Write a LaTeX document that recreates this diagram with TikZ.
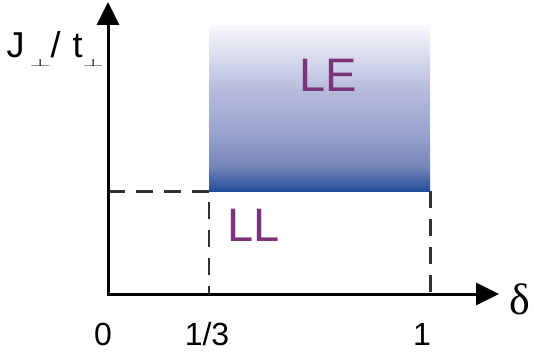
\documentclass[tikz,border=0pt]{standalone}
\usepackage{fontspec}
\usepackage{graphicx}
\setmainfont{Liberation Sans}
\newfontfamily\serifdelta{Liberation Serif}
\usetikzlibrary{arrows.meta}
\definecolor{txtpurple}{RGB}{122,52,122}
\definecolor{dashgray}{RGB}{50,50,50}
\definecolor{sb0}{RGB}{30,75,150}
\definecolor{sb1}{RGB}{38,80,154}
\definecolor{sb2}{RGB}{75,102,168}
\definecolor{sb3}{RGB}{120,135,185}
\definecolor{sb4}{RGB}{155,165,208}
\definecolor{sb5}{RGB}{182,187,220}
\definecolor{sb6}{RGB}{215,218,236}
\definecolor{sb7}{RGB}{248,248,252}
\pgfdeclareverticalshading{leshade}{100bp}{color(0bp)=(sb0); color(25bp)=(sb0); color(25.4bp)=(sb1); color(28.3bp)=(sb2); color(32.8bp)=(sb3); color(43.4bp)=(sb4); color(55.4bp)=(sb5); color(65bp)=(sb6); color(75bp)=(sb7); color(100bp)=(sb7)}
\tikzset{
  axisline/.style={line width=3pt, black, {Triangle[length=23pt,width=22pt]}-{Triangle[length=23pt,width=22pt]}},
  dashline/.style={line width=2.2pt, dashgray, dash pattern=on 17pt off 11pt},
  phase/.style={text=txtpurple, font=\fontsize{47}{47}\selectfont, inner sep=0pt},
  tick/.style={font=\fontsize{32}{32}\selectfont, inner sep=0pt, text=black},
}
\newcommand{\perpsub}{\raisebox{-9pt}{\scalebox{1.1}[0.42]{\fontsize{24}{24}\selectfont$\perp$}}}
\newcommand{\putat}[2]{\makebox[0pt][l]{\hspace{#1pt}#2}}
\begin{document}
\begin{tikzpicture}[x=1pt,y=-1pt]
\useasboundingbox (0,0) rectangle (534,358);
\coordinate (O) at (108,294);
\coordinate (ytip) at (108,2);
\coordinate (xtip) at (499,294);
\node[shading=leshade, rectangle, inner sep=0pt, minimum width=221pt, minimum height=166pt, anchor=north west] (LEbox) at (209,25) {};
\draw[dashline] (LEbox.south west -| O) -- (LEbox.south west) -- (LEbox.south west |- O);
\draw[dashline] (LEbox.south east) -- (LEbox.south east |- O);
\draw[axisline] (ytip) |- (xtip);
\node[phase] (LE) at (328,75) {LE};
\node[phase] (LL) at (254,225) {LL};
\node[tick] (t0) at (103,334) {0};
\node[tick] (t13) at (207,334) {1/3};
\node[tick] (t1) at (422,334) {1};
\node[inner sep=0pt, font=\serifdelta\fontsize{44}{44}\selectfont] (delta) at (520,299) {δ};
\node[inner sep=0pt, font=\fontsize{36}{36}\selectfont, anchor=base west] (ylab) at (0,58) {\putat{6}{J}\putat{29}{\perpsub}\putat{50}{/}\putat{72}{t}\putat{82}{\perpsub}\hspace{97pt}};
\end{tikzpicture}
\end{document}
